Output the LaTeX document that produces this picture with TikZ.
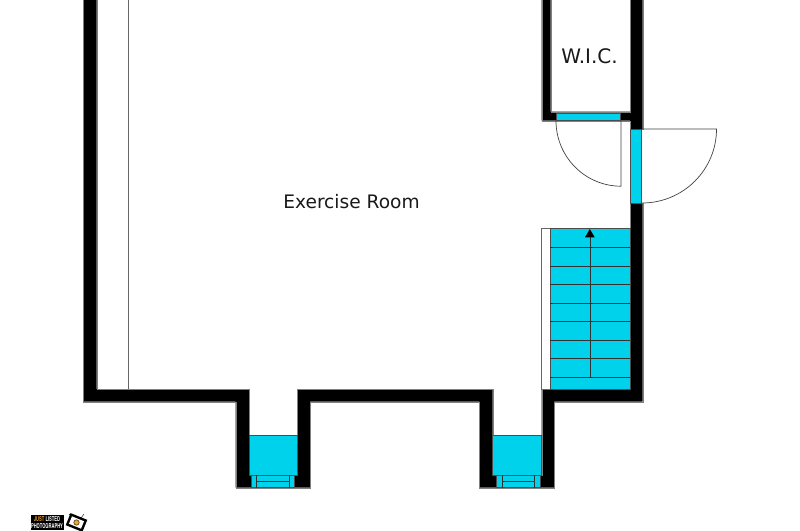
\documentclass[tikz,border=0pt]{standalone}
\usepackage{fontspec}
\setmainfont{DejaVu Sans}
\newfontfamily\logofont{TeX Gyre Heros}
\definecolor{stepcyan}{HTML}{00D2EC}
\definecolor{logoorange}{HTML}{E8A33A}
\begin{document}
\begin{tikzpicture}[x=1pt,y=-1pt,
    wall/.style={fill=black,draw=black!50,line width=0.4pt},
    cyanpart/.style={fill=stepcyan,draw=black!70,line width=0.5pt},
    swing/.style={draw=black!75,line width=0.7pt},
    tread/.style={draw=black!80,line width=0.6pt},
    room label/.style={font=\fontsize{18.6}{22}\selectfont,text=black!90},
    logo text/.style={font=\logofont\bfseries\fontsize{6.6}{7}\selectfont,xscale=0.62,inner sep=0pt}]

\useasboundingbox (0,0) rectangle (800,530);

% walls
\path[wall] (83.3,-1) -- (83.3,401.7) -- (235.7,401.7) -- (235.7,487.7) -- (310,487.7)
    -- (310,401.7) -- (479.3,401.7) -- (479.3,487.7) -- (554.3,487.7) -- (554.3,401.7)
    -- (642.7,401.7) -- (642.7,203) -- (630,203) -- (630,389) -- (541.7,389)
    -- (541.7,475) -- (492.7,475) -- (492.7,389) -- (297.3,389) -- (297.3,475)
    -- (249,475) -- (249,389) -- (96.7,389) -- (96.7,-1) -- cycle;
\path[wall] (541.7,-1) -- (541.7,120.7) -- (630,120.7) -- (630,129) -- (642.7,129)
    -- (642.7,-1) -- (630,-1) -- (630,111.7) -- (550.7,111.7) -- (550.7,-1) -- cycle;
\draw[black!60,line width=0.7pt] (128,-1) -- (128,389);

% doors
\path[cyanpart] (556,113) rectangle (620.7,120.7);
\path[cyanpart] (630,129) rectangle (641.7,203);
\draw[swing] (556,120.7) arc[start angle=180,end angle=270,x radius=65,y radius=-65.5] -- (621,120.7);
\draw[swing] (642,129) -- (716.5,129) arc[start angle=0,end angle=90,x radius=74.5,y radius=74];

% stairs
\draw[draw=black!60,fill=white,line width=0.5pt] (541.7,228.3) rectangle (550,389);
\path[cyanpart] (550,228.3) rectangle (630,389);
\foreach \ystep in {247.3,265.9,284.4,303,321.5,340.1,358.6,377.2}
    \draw[tread] (550,\ystep) -- (630,\ystep);
\draw[tread] (589.8,377.2) -- (589.8,236);
\fill[black] (589.8,229) -- (594.7,237.3) -- (585,237.3) -- cycle;

% entries
\foreach \xa/\xb/\xc/\xd/\xe/\xf in {249/297.3/251/256.7/289/294.3,492.7/541.7/496.3/502.3/534.3/540}{
    \path[cyanpart] (\xa,435) rectangle (\xb,475);
    \path[cyanpart] (\xc,475) rectangle (\xf,487.5);
    \draw[tread] (\xd,475) -- (\xd,487.5) (\xe,475) -- (\xe,487.5) (\xd,481.7) -- (\xe,481.7);
}

% labels
\node[room label] (exercise) at (351.5,202) {Exercise Room};
\node[room label,font=\fontsize{20}{24}\selectfont] (wic) at (589.5,56) {W.I.C.};

% logo
\fill[black] (30.5,515) rectangle (64,530);
\node[logo text,text=white] (listed) at (47,519) {\textcolor{logoorange}{JUST} LISTED};
\node[logo text,text=white] (photo) at (47,526) {PHOTOGRAPHY};
\draw[black,line width=0.4pt] (69,514) -- (73,518) (84,514) -- (81,518);
\node[rotate=-22,fill=black,minimum width=18pt,minimum height=13pt,inner sep=0pt] (camera) at (76.5,522.5) {};
\node[rotate=-22,fill=white,minimum width=13pt,minimum height=8pt,inner sep=0pt] (photoinner) at (camera.center) {};
\node[circle,fill=logoorange,draw=black,line width=0.4pt,minimum size=5.5pt,inner sep=0pt] (lens) at (camera.center) {};
\end{tikzpicture}
\end{document}
